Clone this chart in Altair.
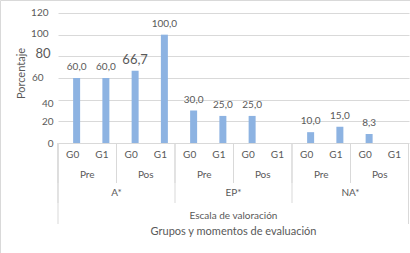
import altair as alt
import pandas as pd

scales = ["A*", "EP*", "NA*"]
moments = ["Pre", "Pos"]
groups = ["G0", "G1"]
values = [60.0, 60.0, 66.7, 100.0, 30.0, 25.0, 25.0, None, 10.0, 15.0, 8.3, None]
value_labels = ["60,0", "60,0", "66,7", "100,0", "30,0", "25,0", "25,0", "", "10,0", "15,0", "8,3", ""]
y_ticks = [0, 20, 40, 60, 80, 100, 120]
y_title = "Porcentaje"
axis_title_1 = "Escala de valoración"
axis_title_2 = "Grupos y momentos de evaluación"

rows = []
i = 0
for s in scales:
    for m in moments:
        for g in groups:
            rows.append(dict(slot=f"{s}|{m}|{g}", grp=f"{s}|{m}", scale=s,
                             moment=m, group=g, value=values[i], label=value_labels[i]))
            i += 1
df = pd.DataFrame(rows)
slots = list(df["slot"])
grps = list(dict.fromkeys(df["grp"]))
df_grp = pd.DataFrame({"grp": grps, "moment": [g.split("|")[1] for g in grps]})
df_scale = pd.DataFrame({"scale": scales})
one = pd.DataFrame({"k": [0]})

FONT = "Lato"
GREY = "#595959"
LINE = "#D9D9D9"
BAR = "#8DB3E2"
W, H = 351, 130


def band(domain):
    return alt.Scale(type="band", domain=domain, paddingInner=0, paddingOuter=0)


y_scale = alt.Scale(domain=[0, 120])

# main axis: grid, title and the lower labels
y_axis = alt.Axis(
    values=y_ticks, title=y_title, grid=True, gridColor=LINE, domain=False,
    ticks=False, labelColor=GREY, labelFont=FONT, labelOverlap=False, orient="left",
    labelFontSize=10, labelPadding=5,
    labelOffset={"condition": {"test": "datum.value == 40", "value": 4}, "value": 0},
    labelExpr="datum.value <= 40 ? datum.label : ''",
    titleX=-37, titleY=60, titleAngle=270, titleAlign="center",
    titleBaseline="middle", titleFontSize=11, titleColor=GREY,
    titleFont=FONT, titleFontWeight="normal",
)


def extra_axis(vals, pad, size, offset):
    return alt.Axis(
        values=vals, title=None, grid=False, domain=False, ticks=False, orient="left",
        labelColor=GREY, labelFont=FONT, labelOverlap=False, labelFontSize=size,
        labelPadding=pad, labelOffset=offset,
    )


bars = alt.Chart(df).mark_bar(size=7, xOffset=4, color=BAR).encode(
    x=alt.X("slot:N", scale=band(slots), axis=None),
    y=alt.Y("value:Q", scale=y_scale, axis=y_axis),
)

bar_text = alt.Chart(df).transform_filter("datum.value != null").mark_text(
    dy=-11, xOffset=4, baseline="middle", font=FONT, color=GREY
).encode(
    x=alt.X("slot:N", scale=band(slots), axis=None),
    y=alt.Y("value:Q", scale=y_scale, axis=None),
    text="label:N",
    size=alt.condition("datum.value == 66.7", alt.value(13), alt.value(10)),
)

ax80 = alt.Chart(pd.DataFrame({"v": [80]})).mark_point(opacity=0).encode(
    y=alt.Y("v:Q", scale=y_scale, axis=extra_axis([80], 8, 13, -3))
)
ax100 = alt.Chart(pd.DataFrame({"v": [100, 120]})).mark_point(opacity=0).encode(
    y=alt.Y("v:Q", scale=y_scale, axis=extra_axis([100, 120], 10, 10, -1))
)
ax60 = alt.Chart(pd.DataFrame({"v": [60]})).mark_point(opacity=0).encode(
    y=alt.Y("v:Q", scale=y_scale, axis=extra_axis([60], 15, 10, -1))
)

slot_text = alt.Chart(df).mark_text(baseline="middle", font=FONT, color=GREY, fontSize=10).encode(
    x=alt.X("slot:N", scale=band(slots), axis=None),
    y=alt.value(142),
    text="group:N",
)

grp_text = alt.Chart(df_grp).mark_text(baseline="middle", font=FONT, color=GREY, fontSize=10).encode(
    x=alt.X("grp:N", scale=band(grps), axis=None),
    y=alt.value(162),
    text="moment:N",
)

scale_text = alt.Chart(df_scale).mark_text(baseline="middle", font=FONT, color=GREY, fontSize=10).encode(
    x=alt.X("scale:N", scale=band(scales), axis=None),
    y=alt.value(180),
    text="scale:N",
)

t1 = alt.Chart(one).mark_text(baseline="middle", font=FONT, color=GREY, fontSize=10).encode(
    x=alt.value(W / 2), y=alt.value(203), text=alt.value(axis_title_1)
)
t2 = alt.Chart(one).mark_text(baseline="middle", font=FONT, color=GREY, fontSize=11).encode(
    x=alt.value(W / 2), y=alt.value(219), text=alt.value(axis_title_2)
)

grp_rules = alt.Chart(df_grp).mark_rule(color=LINE).encode(
    x=alt.X("grp:N", bandPosition=0, scale=band(grps), axis=None),
    y=alt.value(130), y2=alt.value(170),
)
scale_rules = alt.Chart(df_scale).mark_rule(color=LINE).encode(
    x=alt.X("scale:N", bandPosition=0, scale=band(scales), axis=None),
    y=alt.value(130), y2=alt.value(190),
)
outer_l = alt.Chart(one).mark_rule(color=LINE).encode(
    x=alt.value(0), y=alt.value(130), y2=alt.value(211)
)
outer_r = alt.Chart(one).mark_rule(color=LINE).encode(
    x=alt.value(W - 0.5), y=alt.value(130), y2=alt.value(211)
)
border = alt.Chart(one).mark_rect(filled=False, stroke=LINE, strokeWidth=1).encode(
    x=alt.value(-57.5), x2=alt.value(360), y=alt.value(-12.5), y2=alt.value(260)
)

chart = alt.layer(
    border, grp_rules, scale_rules, outer_l, outer_r, bars, bar_text, ax80, ax100, ax60,
    slot_text, grp_text, scale_text, t1, t2
).resolve_scale(x="independent", y="shared").resolve_axis(y="independent").properties(
    width=W, height=H, autosize="none",
    padding={"left": 58, "top": 13, "right": 1, "bottom": 110},
).configure_view(stroke=None).configure_axis(labelOverlap=False)

chart.save("out.html", embed_options={"renderer": "svg", "actions": False})
